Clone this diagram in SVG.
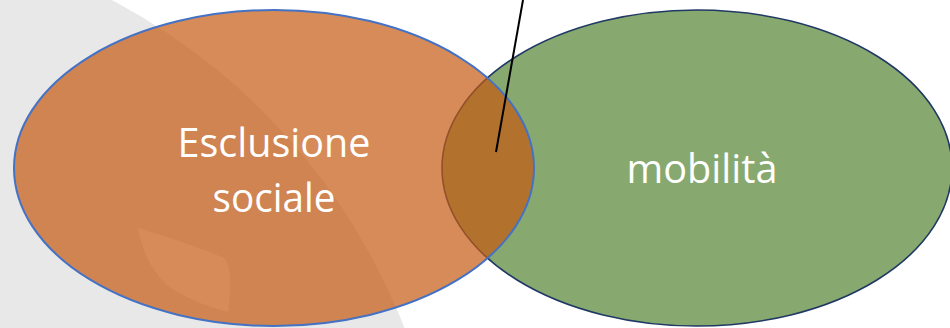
<svg xmlns="http://www.w3.org/2000/svg" width="950" height="328" viewBox="0 0 950 328">
  <style>
    .lbl { font-family: "Open Sans", "Noto Sans", "Liberation Sans", sans-serif; font-size: 41px; fill: #FFFFFF; text-anchor: middle; }
  </style>
  <rect x="0" y="0" width="950" height="328" fill="#FFFFFF"/>
  <g id="background">
    <circle cx="-180" cy="555" r="627" fill="#E8E8E9"/>
    <path d="M138,228 C165,236 200,248 224,258 C232,266 231,290 228,312 C205,306 180,296 166,284 C150,268 142,250 138,228 Z" fill="#FFFFFF"/>
  </g>
  <g id="mobilita">
    <ellipse cx="697" cy="168" rx="255" ry="158" fill="#87A96F" stroke="#1F3864" stroke-width="1.6"/>
    <text class="lbl" x="702" y="183" textLength="151" lengthAdjust="spacingAndGlyphs">mobilità</text>
  </g>
  <g id="esclusione">
    <ellipse cx="274" cy="168" rx="260" ry="158" fill="#C55A11" fill-opacity="0.7" stroke="#4472C4" stroke-width="2"/>
    <text class="lbl" x="274" y="157" textLength="193" lengthAdjust="spacingAndGlyphs">Esclusione</text>
    <text class="lbl" x="274" y="212" textLength="123" lengthAdjust="spacingAndGlyphs">sociale</text>
  </g>
  <g id="connectors">
    <line x1="523" y1="0" x2="496" y2="152" stroke="#000000" stroke-width="2"/>
  </g>
</svg>
